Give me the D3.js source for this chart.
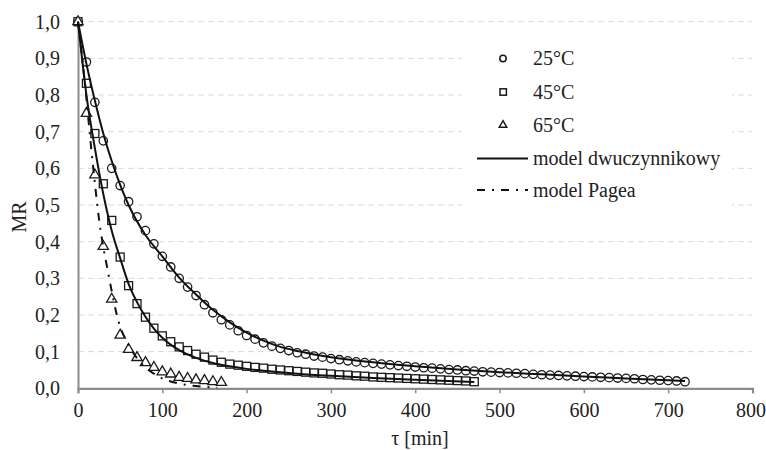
<!DOCTYPE html>
<html>
<head>
<meta charset="utf-8">
<script src="https://cdn.jsdelivr.net/npm/d3@7"></script>
<style>
  body { margin: 0; background: #fff; }
  svg { display: block; font-family: "Liberation Serif", "Times New Roman", serif; }
</style>
</head>
<body>
<div id="chart"></div>
<script>
// measurement times [min], every 10 min
const timeMin = [0,10,20,30,40,50,60,70,80,90,100,110,120,130,140,150,160,170,180,190,200,
  210,220,230,240,250,260,270,280,290,300,310,320,330,340,350,360,370,380,390,400,
  410,420,430,440,450,460,470,480,490,500,510,520,530,540,550,560,570,580,590,600,
  610,620,630,640,650,660,670,680,690,700,710,720];

// MR measured
const mr25 = [1.0,0.89,0.78,0.675,0.60,0.553,0.509,0.468,0.43,0.394,0.36,0.331,0.30,0.276,0.253,0.228,0.206,0.187,0.173,0.157,0.144,
  0.134,0.124,0.115,0.109,0.103,0.097,0.093,0.088,0.085,0.081,0.078,0.075,0.072,0.07,0.068,0.066,0.064,0.062,0.06,0.058,
  0.056,0.055,0.053,0.051,0.05,0.048,0.047,0.045,0.044,0.043,0.042,0.041,0.04,0.038,0.037,0.036,0.035,0.034,0.033,0.032,
  0.031,0.03,0.029,0.028,0.027,0.026,0.024,0.023,0.022,0.021,0.02,0.018];
const mr45 = [1.0,0.832,0.695,0.558,0.458,0.358,0.28,0.231,0.194,0.164,0.143,0.127,0.113,0.103,0.093,0.085,0.077,0.071,0.066,0.063,0.06,
  0.057,0.055,0.052,0.05,0.048,0.046,0.044,0.042,0.041,0.039,0.037,0.036,0.034,0.033,0.031,0.03,0.029,0.028,0.027,0.026,
  0.025,0.024,0.023,0.022,0.021,0.02,0.018];
const mr65 = [1.0,0.75,0.582,0.387,0.243,0.145,0.106,0.084,0.07,0.057,0.045,0.039,0.03,0.027,0.023,0.021,0.018,0.016];

// model curves
const modelTime25 = [0,10,20,30,40,50,60,80,100,120,140,160,180,200,220,240,260,300,350,400,450,500,550,600,650,700,720];
const model25 = [1.0,0.885,0.785,0.695,0.62,0.555,0.5,0.418,0.36,0.302,0.256,0.214,0.18,0.152,0.13,0.113,0.102,0.085,0.071,0.06,0.051,0.044,0.038,0.032,0.027,0.022,0.02];
const modelTime45 = [0,10,20,30,40,50,60,70,80,90,100,120,140,160,180,200,230,260,300,350,400,470];
const model45 = [1.0,0.80,0.655,0.53,0.43,0.355,0.285,0.235,0.195,0.163,0.138,0.104,0.083,0.069,0.06,0.053,0.046,0.04,0.034,0.028,0.023,0.017];
const modelTimePage = [0,5,10,15,20,25,30,35,40,45,50,55,60,70,80,90,100,120,140,165];
const modelPage = [1.0,0.9,0.79,0.67,0.56,0.46,0.385,0.325,0.265,0.21,0.168,0.14,0.118,0.082,0.057,0.04,0.027,0.013,0.006,0.002];

const xTicks = [0,100,200,300,400,500,600,700,800];
const yTicks = [0,0.1,0.2,0.3,0.4,0.5,0.6,0.7,0.8,0.9,1.0];
const legendLabels = ["25°C","45°C","65°C","model dwuczynnikowy","model Pagea"];

const width = 766, height = 450;
const svg = d3.select("#chart").append("svg")
  .attr("width", width).attr("height", height);

const x = d3.scaleLinear().domain([0, 800]).range([78, 752.5]);
const y = d3.scaleLinear().domain([0, 1]).range([388.3, 21.7]);
const pl = d3.formatLocale({decimal: ",", thousands: " ", grouping: [3], currency: ["", ""]});

// dashed gridlines
svg.append("g").selectAll("line")
  .data(yTicks.filter(d => d > 0))
  .join("line")
  .attr("x1", x(0)).attr("x2", x(800))
  .attr("y1", d => y(d)).attr("y2", d => y(d))
  .attr("stroke", "#d9d9d9").attr("stroke-width", 1)
  .attr("stroke-dasharray", "6,4");

// y axis
const yAxis = svg.append("g")
  .attr("transform", `translate(${x(0)},0)`)
  .call(d3.axisLeft(y).tickValues(yTicks).tickSize(0).tickPadding(18).tickFormat(pl.format(".1f")));
yAxis.select(".domain").attr("stroke", "#8c8c8c").attr("stroke-width", 2);
yAxis.selectAll("text").attr("font-size", "20px").attr("fill", "#222").attr("font-family", "Liberation Serif");

// x axis
const xAxis = svg.append("g")
  .attr("transform", `translate(0,${y(0)})`)
  .call(d3.axisBottom(x).tickValues(xTicks).tickSize(5).tickPadding(10).tickFormat(d3.format("d")));
xAxis.select(".domain").attr("stroke", "#8c8c8c").attr("stroke-width", 2.2);
xAxis.selectAll(".tick line").attr("stroke", "#8c8c8c").attr("stroke-width", 1.5);
xAxis.selectAll("text").attr("font-size", "20px").attr("fill", "#222").attr("font-family", "Liberation Serif");
// last label sits right at the edge, nudge it inside
xAxis.selectAll(".tick text").filter(d => d === 800).attr("text-anchor", "end").attr("dx", "13");

// axis titles
svg.append("text")
  .attr("transform", "translate(26,217) rotate(-90)")
  .attr("text-anchor", "middle").attr("font-size", "20px").attr("fill", "#222")
  .text("MR");
svg.append("text")
  .attr("x", 420).attr("y", 445)
  .attr("text-anchor", "middle").attr("font-size", "20px").attr("fill", "#222")
  .text("τ [min]");

// markers
const mk = "#1a1a1a";
const plot = svg.append("g");
plot.selectAll(".c25").data(mr25).join("circle")
  .attr("class", "c25")
  .attr("cx", (d, i) => x(timeMin[i])).attr("cy", d => y(d)).attr("r", 4.2)
  .attr("fill", "#fff").attr("stroke", mk).attr("stroke-width", 1.3);
plot.selectAll(".s45").data(mr45).join("rect")
  .attr("class", "s45")
  .attr("x", (d, i) => x(timeMin[i]) - 4).attr("y", d => y(d) - 4)
  .attr("width", 8).attr("height", 8)
  .attr("fill", "#fff").attr("stroke", mk).attr("stroke-width", 1.3);
const tri = d3.symbol().type(d3.symbolTriangle).size(46);
plot.selectAll(".t65").data(mr65).join("path")
  .attr("class", "t65")
  .attr("transform", (d, i) => `translate(${x(timeMin[i])},${y(d)})`)
  .attr("d", tri)
  .attr("fill", "#fff").attr("stroke", mk).attr("stroke-width", 1.3);

// model lines
const line = d3.line().curve(d3.curveMonotoneX);
plot.append("path")
  .attr("d", line(modelTime25.map((t, i) => [x(t), y(model25[i])])))
  .attr("fill", "none").attr("stroke", "#111").attr("stroke-width", 2);
plot.append("path")
  .attr("d", line(modelTime45.map((t, i) => [x(t), y(model45[i])])))
  .attr("fill", "none").attr("stroke", "#111").attr("stroke-width", 2);
plot.append("path")
  .attr("d", line(modelTimePage.map((t, i) => [x(t), y(modelPage[i])])))
  .attr("fill", "none").attr("stroke", "#111").attr("stroke-width", 2)
  .attr("stroke-dasharray", "8,7,2,7");

// legend (white box over the gridlines)
const lg = svg.append("g");
lg.append("rect").attr("x", 462).attr("y", 32).attr("width", 270).attr("height", 180).attr("fill", "#fff");
const rowY = [58.5, 92, 125, 158.5, 190];
lg.append("circle").attr("cx", 503).attr("cy", rowY[0]).attr("r", 3.2)
  .attr("fill", "#fff").attr("stroke", mk).attr("stroke-width", 1.5);
lg.append("rect").attr("x", 500).attr("y", rowY[1] - 3.2).attr("width", 6.4).attr("height", 6.4)
  .attr("fill", "#fff").attr("stroke", mk).attr("stroke-width", 1.5);
lg.append("path").attr("transform", `translate(503,${rowY[2]})`)
  .attr("d", d3.symbol().type(d3.symbolTriangle).size(24))
  .attr("fill", "#fff").attr("stroke", mk).attr("stroke-width", 1.5);
lg.append("line").attr("x1", 477).attr("x2", 528).attr("y1", rowY[3]).attr("y2", rowY[3])
  .attr("stroke", "#111").attr("stroke-width", 2);
lg.append("line").attr("x1", 477).attr("x2", 528).attr("y1", rowY[4]).attr("y2", rowY[4])
  .attr("stroke", "#111").attr("stroke-width", 2).attr("stroke-dasharray", "8,7,2,7");
lg.selectAll("text").data(legendLabels).join("text")
  .attr("x", 533).attr("y", (d, i) => rowY[i] + 6.5)
  .attr("font-size", "20px").attr("fill", "#222")
  .text(d => d);
</script>
</body>
</html>
